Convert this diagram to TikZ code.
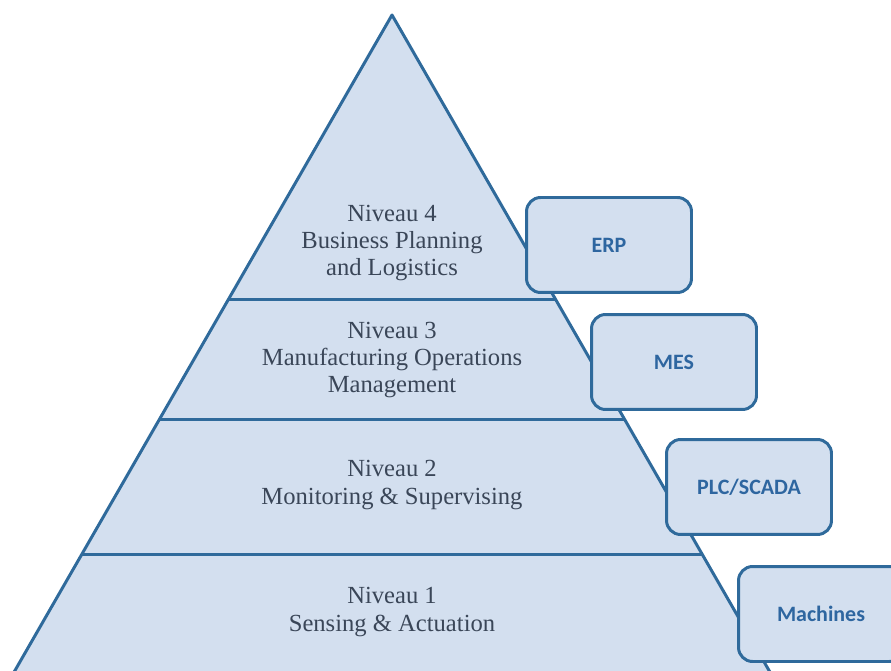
\documentclass[tikz,border=0pt]{standalone}
\usepackage{fontspec}
\setmainfont{Liberation Serif}
\newfontfamily\boxfont{Carlito}
\usepackage{xcolor}
\usepackage{tikz}
\usetikzlibrary{calc}
\definecolor{bandfill}{HTML}{D3DFEF}
\definecolor{bandline}{HTML}{2F6A9B}
\definecolor{bandtext}{HTML}{3A4658}
\definecolor{boxtext}{HTML}{2E66A0}
\tikzset{
  level/.style={fill=bandfill, draw=bandline, line width=1.7pt, line join=round},
  leveltext/.style={align=center, text=bandtext, font=\fontsize{14}{15.6}\selectfont},
  sysbox/.style={draw=bandline, fill=bandfill, line width=1.7pt, rounded corners=8pt,
    minimum width=3.3cm, minimum height=1.9cm, text=boxtext,
    font=\boxfont\bfseries\fontsize{12.5}{14}\selectfont}
}
\begin{document}
\begin{tikzpicture}[x=0.02cm, y=-0.02cm]
\useasboundingbox (0,0) rectangle (891,671);
\clip (0,0) rectangle (891,671);
  \path
    (392,15) coordinate (A)
    (-2,700) coordinate (L)
    (786,700) coordinate (R)
    ($(A)!0.416!(L)$) coordinate (L4)
    ($(A)!0.416!(R)$) coordinate (R4)
    ($(A)!0.591!(L)$) coordinate (L3)
    ($(A)!0.591!(R)$) coordinate (R3)
    ($(A)!0.788!(L)$) coordinate (L2)
    ($(A)!0.788!(R)$) coordinate (R2)
  ;
% pyramid
\draw[level] (A) -- (R) -- (L) -- cycle;
\draw[level] (L4) -- (R4);
\draw[level] (L3) -- (R3);
\draw[level] (L2) -- (R2);

\node[leveltext] (n4) at (392,243) {Niveau 4\\Business Planning\\and Logistics};
\node[leveltext] (n3) at (392,360) {Niveau 3\\Manufacturing Operations\\Management};
\node[leveltext] (n2) at (392,485) {Niveau 2\\Monitoring \& Supervising};
\node[leveltext] (n1) at (392,612) {Niveau 1\\Sensing \& Actuation};

% systems
\node[sysbox] (erp) at (609,245) {ERP};
\node[sysbox] (mes) at (674,362) {MES};
\node[sysbox] (plc) at (749,487) {PLC/SCADA};
\node[sysbox] (mach) at (821,614) {Machines};

\end{tikzpicture}
\end{document}
